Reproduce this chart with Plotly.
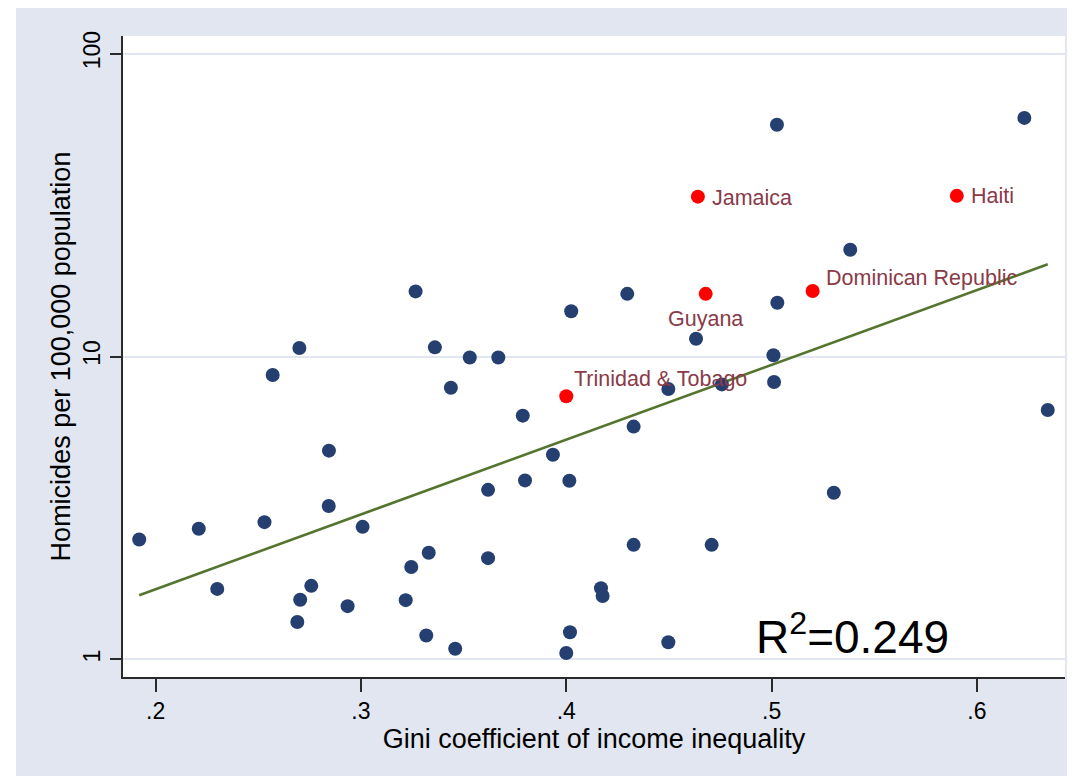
import math
import plotly.graph_objects as go

# DATA
gini_other = [0.192, 0.221, 0.230, 0.253, 0.257, 0.270, 0.269, 0.2704, 0.2758, 0.2844,
              0.2843, 0.2935, 0.3008, 0.3218, 0.3245, 0.3266, 0.3318, 0.333, 0.336, 0.3438,
              0.3459, 0.353, 0.3669, 0.3619, 0.3619, 0.3788, 0.3799, 0.3935, 0.4015, 0.4024,
              0.4018, 0.400, 0.4169, 0.4177, 0.4297, 0.4328, 0.4328, 0.4497, 0.4497, 0.4632,
              0.4708, 0.4758, 0.5009, 0.5012, 0.5026, 0.5028, 0.5303, 0.5383, 0.6231, 0.6345]
homicide_other = [2.49, 2.70, 1.71, 2.84, 8.69, 10.67, 1.33, 1.575, 1.75, 4.89,
                  3.21, 1.50, 2.74, 1.57, 2.02, 16.4, 1.20, 2.25, 10.72, 7.89,
                  1.085, 9.92, 9.92, 3.63, 2.16, 6.38, 3.90, 4.74, 3.89, 14.1,
                  1.23, 1.05, 1.72, 1.62, 16.1, 5.87, 2.39, 7.81, 1.14, 11.45,
                  2.39, 8.09, 10.1, 8.24, 58.2, 15.05, 3.55, 22.5, 61.3, 6.66]

carib_names = ["Jamaica", "Guyana", "Dominican Republic", "Haiti", "Trinidad & Tobago"]
gini_carib = [0.4641, 0.4679, 0.520, 0.5902, 0.400]
homicide_carib = [33.7, 16.1, 16.45, 33.9, 7.39]

fit_gini = [0.192, 0.6345]
fit_homicide = [1.63, 20.15]

r_squared = 0.249

x_ticks = [0.2, 0.3, 0.4, 0.5, 0.6]
x_ticktext = [".2", ".3", ".4", ".5", ".6"]
y_ticks = [1, 10, 100]
y_ticktext = ["1", "10", "100"]

# STYLE
BG = "#E1E6F0"
NAVY = "#243F70"
MAROON = "#8A3A48"
GREEN = "rgb(85,117,47)"
FONT = "Liberation Sans, Arial, sans-serif"

# label placement per country: (xanchor, xshift, yshift)
label_pos = {
    "Jamaica": ("left", 12, -1),
    "Guyana": ("center", 0, -25),
    "Dominican Republic": ("left", 11, 13),
    "Haiti": ("left", 12, 0),
    "Trinidad & Tobago": ("left", 6, 17),
}

fig = go.Figure()

fig.add_trace(go.Scatter(x=fit_gini, y=fit_homicide, mode="lines",
                         line=dict(color=GREEN, width=2.7), hoverinfo="skip"))
fig.add_trace(go.Scatter(x=gini_other, y=homicide_other, mode="markers",
                         marker=dict(color=NAVY, size=14, line=dict(width=0))))
fig.add_trace(go.Scatter(x=gini_carib, y=homicide_carib, mode="markers",
                         marker=dict(color="#FF0000", size=14, line=dict(width=0)),
                         text=carib_names))

for name, gx, hy in zip(carib_names, gini_carib, homicide_carib):
    anchor, dx, dy = label_pos[name]
    fig.add_annotation(x=gx, y=math.log10(hy), text=name, showarrow=False,
                       xanchor=anchor, yanchor="middle", xshift=dx, yshift=dy,
                       font=dict(family=FONT, size=21.5, color=MAROON))

fig.add_annotation(xref="paper", yref="paper", x=0.6699, y=0.067,
                   text=f"R<sup>2</sup>={r_squared}", showarrow=False,
                   xanchor="left", yanchor="middle",
                   font=dict(family=FONT, size=46, color="black"))

# white strip at the left of the coloured graph region
fig.add_shape(type="rect", xref="paper", yref="paper", x0=-0.2, x1=-0.1136, y0=-0.3, y1=1.2,
              fillcolor="white", line=dict(width=0))

fig.update_layout(
    width=1067, height=768,
    margin=dict(l=115, r=10, t=28, b=99),
    paper_bgcolor=BG, plot_bgcolor="white",
    showlegend=False,
    font=dict(family=FONT, color="black"),
    xaxis=dict(range=[0.1841, 0.6429], tickvals=x_ticks, ticktext=x_ticktext,
               ticks="outside", ticklen=13, tickwidth=1.5, tickcolor="#2a2a2a",
               tickfont=dict(size=23), showgrid=False, zeroline=False,
               showline=True, linecolor="#2a2a2a", linewidth=1.5,
               title=dict(text="Gini coefficient of income inequality",
                          font=dict(size=27), standoff=4)),
    yaxis=dict(type="log", range=[-0.0578, 2.0578], tickvals=y_ticks, ticktext=y_ticktext,
               ticks="outside", ticklen=11, tickwidth=1.5, tickcolor="#2a2a2a",
               tickangle=-90, tickfont=dict(size=23), ticklabelstandoff=1,
               showgrid=True, gridcolor=BG, gridwidth=2, zeroline=False,
               showline=True, linecolor="#2a2a2a", linewidth=1.5,
               title=dict(text="Homicides per 100,000 population",
                          font=dict(size=27), standoff=1)),
)

fig.write_html("out.html")
